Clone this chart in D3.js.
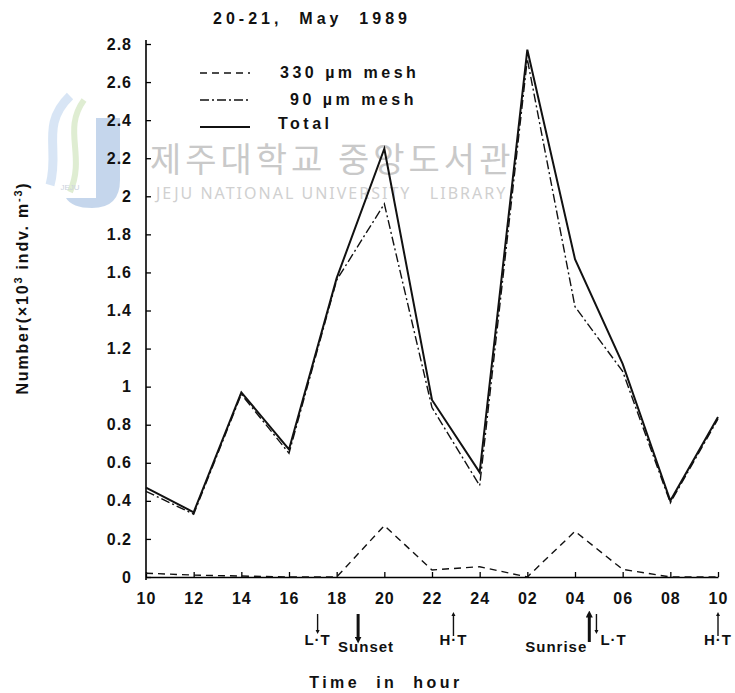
<!DOCTYPE html>
<html lang="en">
<meta charset="utf-8">
<title>20-21, May 1989</title>
<script src="https://d3js.org/d3.v7.min.js"></script>
<body>
<div id="chart"></div>
</body>
<style>
body { margin: 0; background: white; }
text { font-family: "Liberation Sans", Arial, sans-serif; fill: #111; }
.tick text { font-size: 16px; font-weight: bold; letter-spacing: 1px; }
.mark { font-weight: bold; font-size: 14px; letter-spacing: 1px; white-space: pre; }
</style>
<script>
// sampling hours (x categories)
let hours = ["10", "12", "14", "16", "18", "20", "22", "24", "02", "04", "06", "08", "10"];

// values (x10^3 indv. m^-3)
let mesh330 = [0.02, 0.01, 0.005, 0.0, 0.0, 0.27, 0.037, 0.054, 0.0, 0.24, 0.04, 0.0, 0.0];
let mesh90  = [0.45, 0.33, 0.96, 0.65, 1.56, 1.96, 0.89, 0.48, 2.72, 1.42, 1.08, 0.39, 0.83];
let total   = [0.47, 0.34, 0.97, 0.67, 1.57, 2.25, 0.93, 0.55, 2.77, 1.67, 1.12, 0.40, 0.84];

let yTicks = [0, 0.2, 0.4, 0.6, 0.8, 1, 1.2, 1.4, 1.6, 1.8, 2, 2.2, 2.4, 2.6, 2.8];

// tide / sun annotations below the axis (position in index units of the hour axis)
let events = [
  {label: "L\u00b7T", pos: 3.6, dir: "down", bold: false},
  {label: "Sunset", pos: 4.45, dir: "down", bold: true},
  {label: "H\u00b7T", pos: 6.45, dir: "up", bold: false},
  {label: "Sunrise", pos: 9.3, dir: "up", bold: true},
  {label: "L\u00b7T", pos: 9.45, dir: "down", bold: false},
  {label: "H\u00b7T", pos: 12, dir: "up", bold: false}
];

let width = 735, height = 693;
let margin = {top: 44, right: 17, bottom: 116, left: 146};

let svg = d3.select("#chart").append("svg")
  .attr("width", width)
  .attr("height", height);

let defs = svg.append("defs");
defs.append("marker").attr("id", "head")
  .attr("viewBox", "0 0 10 10").attr("refX", 5).attr("refY", 5)
  .attr("markerWidth", 4).attr("markerHeight", 5)
  .attr("markerUnits", "userSpaceOnUse")
  .attr("orient", "auto")
  .append("path").attr("d", "M0,0 L10,5 L0,10 Z").attr("fill", "#111");
defs.append("marker").attr("id", "headBig")
  .attr("viewBox", "0 0 10 10").attr("refX", 5).attr("refY", 5)
  .attr("markerWidth", 7).attr("markerHeight", 7)
  .attr("markerUnits", "userSpaceOnUse")
  .attr("orient", "auto")
  .append("path").attr("d", "M0,0 L10,5 L0,10 Z").attr("fill", "#111");

// --- watermark of the scanned source (faint) ---
let wm = svg.append("g").attr("opacity", 0.45);
wm.append("path")
  .attr("d", "M96,118 L120,118 L120,180 Q120,208 92,208 Q72,208 66,198 L96,198 Z")
  .attr("fill", "#7fa6d6");
wm.append("path")
  .attr("d", "M70,96 C40,125 60,150 50,185")
  .attr("fill", "none").attr("stroke", "#a9c7ea").attr("stroke-width", 9);
wm.append("path")
  .attr("d", "M84,100 C62,130 86,155 70,192")
  .attr("fill", "none").attr("stroke", "#b9d89c").attr("stroke-width", 6);
wm.append("text").attr("x", 70).attr("y", 190).attr("text-anchor", "middle")
  .style("font-size", "8px").style("fill", "#8c9bb3").text("JEJU");
svg.append("text")
  .attr("x", 150).attr("y", 172)
  .style("font-family", "'Noto Sans CJK KR', sans-serif")
  .style("font-size", "34px")
  .style("letter-spacing", "4px")
  .style("fill", "#c9c9c9")
  .text("제주대학교 중앙도서관");
svg.append("text")
  .attr("x", 156).attr("y", 199)
  .style("font-family", "'Noto Sans', sans-serif")
  .style("font-size", "16px")
  .style("letter-spacing", "2px")
  .style("white-space", "pre")
  .style("fill", "#d0d0d0")
  .text("JEJU NATIONAL UNIVERSITY   LIBRARY");

// --- scales ---
let x = d3.scaleLinear()
  .domain([0, hours.length - 1])
  .range([margin.left, width - margin.right]);
let y = d3.scaleLinear()
  .domain([0, 2.8])
  .range([height - margin.bottom, margin.top]);

// --- axes ---
svg.append("g")
  .attr("transform", "translate(" + margin.left + ",0)")
  .call(d3.axisLeft(y).tickValues(yTicks).tickSizeInner(-5).tickSizeOuter(0).tickPadding(14)
    .tickFormat(d => String(+d.toFixed(1))))
  .call(g => g.select(".domain").attr("stroke-width", 1.6).attr("d", "M0," + (y(0) + 3) + "V" + (margin.top - 4)))
  .call(g => g.selectAll(".tick line").attr("stroke-width", 1.3));

svg.append("g")
  .attr("transform", "translate(0," + y(0) + ")")
  .call(d3.axisBottom(x).tickValues(d3.range(hours.length)).tickSizeInner(-5).tickSizeOuter(0).tickPadding(16)
    .tickFormat(i => hours[i]))
  .call(g => g.select(".domain").attr("stroke-width", 1.6))
  .call(g => g.selectAll(".tick line").attr("stroke-width", 1.3));

// --- series ---
let line = d3.line()
  .x((d, i) => x(i))
  .y(d => y(d));

let series = [
  {name: "330 \u00b5m mesh", values: mesh330, dash: "7,5", w: 1.4},
  {name: "90 \u00b5m mesh", values: mesh90, dash: "9,3,2,3", w: 1.4},
  {name: "Total", values: total, dash: null, w: 2}
];

svg.append("g").selectAll("path")
  .data(series)
  .join("path")
    .attr("d", d => line(d.values))
    .attr("fill", "none")
    .attr("stroke", "#111")
    .attr("stroke-width", d => d.w)
    .attr("stroke-dasharray", d => d.dash);

// --- legend ---
let legend = svg.append("g").selectAll("g")
  .data(series)
  .join("g")
    .attr("transform", (d, i) => "translate(0," + (73 + i * 27) + ")");
legend.append("line")
  .attr("x1", 200).attr("x2", 250)
  .attr("stroke", "#111")
  .attr("stroke-width", d => d.w)
  .attr("stroke-dasharray", d => d.dash);
legend.append("text")
  .attr("class", "mark")
  .attr("x", (d, i) => [280, 290, 278][i])
  .attr("y", (d, i) => i === 2 ? 2 : 5)
  .style("font-size", "16px")
  .style("letter-spacing", "3.5px")
  .text(d => d.name);

// --- title ---
svg.append("text")
  .attr("class", "mark")
  .attr("x", 312).attr("y", 24)
  .attr("text-anchor", "middle")
  .style("font-size", "16px")
  .style("letter-spacing", "4px")
  .text("20-21,  May  1989");

// --- axis titles ---
svg.append("text")
  .attr("class", "mark")
  .attr("transform", "translate(28," + 288 + ") rotate(-90)")
  .attr("text-anchor", "middle")
  .style("font-size", "16px")
  .style("letter-spacing", "1.8px")
  .html("Number(\u00d710<tspan dy='-6' font-size='11'>3</tspan><tspan dy='6'> indv. m</tspan><tspan dy='-6' font-size='11'>-3</tspan><tspan dy='6'>)</tspan>");

svg.append("text")
  .attr("class", "mark")
  .attr("x", 386).attr("y", 688)
  .attr("text-anchor", "middle")
  .style("font-size", "16px")
  .style("letter-spacing", "3.5px")
  .text("Time  in  hour");

// --- tide / sun annotations ---
let ev = svg.append("g").selectAll("g")
  .data(events)
  .join("g");
ev.append("line")
  .attr("x1", d => x(d.pos)).attr("x2", d => x(d.pos))
  .attr("y1", d => d.dir === "down" ? 614 : (d.bold ? 642 : 636))
  .attr("y2", d => d.dir === "down" ? (d.bold ? 640 : 632) : 614)
  .attr("stroke", "#111")
  .attr("stroke-width", d => d.bold ? 3 : 1.4)
  .attr("marker-end", d => d.bold ? "url(#headBig)" : "url(#head)");
ev.append("text")
  .attr("class", "mark")
  .attr("x", d => d.label === "Sunset" ? x(d.pos) + 8
                : d.label === "Sunrise" ? x(d.pos) - 2
                : (d.pos === 9.45 ? x(d.pos) + 4 : x(d.pos)))
  .attr("y", d => d.bold ? 652 : 645)
  .attr("text-anchor", d => d.label === "Sunrise" ? "end"
                : d.pos === 9.45 ? "start" : "middle")
  .style("font-size", "15px")
  .text(d => d.label);
</script>
</html>
